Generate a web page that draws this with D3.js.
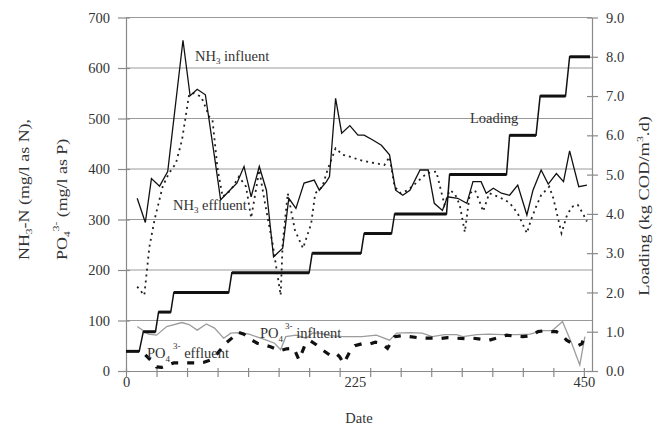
<!DOCTYPE html>
<html>
<head>
<meta charset="utf-8">
<script src="https://cdn.jsdelivr.net/npm/d3@7"></script>
<style>
  body { margin: 0; background: #fff; }
  svg { display: block; }
  text { font-family: "Liberation Serif", "Times New Roman", serif; fill: #333; }
</style>
</head>
<body>
<svg id="chart" width="655" height="432"></svg>
<script>
// ---- NH3-N influent (mg/l as N) ----
const nh3InfDay = [11,19,25,33,41,56,63,70,78,87,93,103,109,116,123,131,138,145,154,160,167,175,185,190,197,200,206,212,220,228,234,243,251,259,265,272,279,289,297,303,311,316,326,335,341,349,354,361,369,377,385,394,400,408,415,423,430,436,445,453];
const nh3Inf    = [342,294,381,366,395,655,545,558,547,424,339,360,372,405,345,405,358,226,243,342,322,372,378,358,375,385,540,471,486,467,467,457,447,428,358,348,358,398,398,332,318,345,342,332,375,375,352,362,352,348,368,309,358,398,370,391,375,436,365,368];

// ---- NH3-N effluent (mg/l as N) ----
const nh3EffDay = [11,18,23,28,36,42,49,55,62,67,74,82,85,90,95,103,111,118,123,131,136,139,144,152,154,159,166,174,182,186,193,198,206,213,221,229,238,246,254,259,264,270,277,285,292,296,305,313,318,323,328,333,338,343,348,351,357,366,372,377,385,394,398,403,408,416,420,428,433,438,444,449,453];
const nh3Eff    = [167,150,246,299,365,391,411,457,547,550,543,503,497,400,345,358,385,365,303,398,339,306,253,150,253,352,279,243,292,352,365,398,441,428,424,418,414,411,408,424,365,352,358,372,385,392,395,329,358,352,329,275,352,358,333,316,352,345,339,333,312,273,299,325,348,365,342,273,306,325,329,312,296];

// ---- PO4 3- influent (mg/l as P) ----
const po4InfDay = [11,22,30,40,55,62,70,79,87,96,103,111,121,128,138,146,152,157,167,177,183,190,200,213,232,246,259,266,279,291,301,313,325,331,345,357,370,384,397,410,419,429,438,446,451];
const po4Inf    = [88,73,71,88,96,92,81,93,85,65,75,76,73,68,61,55,42,68,71,65,75,75,70,68,68,71,61,75,76,75,68,72,72,68,72,73,72,72,73,80,80,98,55,12,68];

// ---- PO4 3- effluent (mg/l as P) ----
const po4EffDay = [19,26,30,35,47,52,64,69,76,83,90,98,104,110,116,123,129,135,142,151,158,165,170,176,181,187,193,200,206,210,214,220,225,232,239,245,251,257,264,272,279,287,295,302,308,316,325,333,341,349,357,366,374,382,390,398,405,412,418,423,428,433,438,444,448,451];
const po4Eff    = [32,18,8,7,16,16,16,16,17,22,35,55,65,77,73,62,55,52,48,40,44,45,22,52,60,52,42,32,36,28,15,38,50,54,53,57,55,45,68,70,68,66,65,65,64,66,65,64,65,63,61,66,71,69,68,70,78,80,78,78,72,61,55,50,54,70];

// ---- Organic loading (kg COD/m3.d), start and end day of each step ----
const loadDay = [0,13,17,29,32,44,47,101,104,180,183,231,234,261,264,315,318,374,377,403,407,432,436,456];
const loadVal = [0.5,0.5,1,1,1.5,1.5,2,2,2.5,2.5,3,3,3.5,3.5,4,4,5,5,6,6,7,7,8,8];

// ---- Axis ticks ----
const leftTicks  = [0,100,200,300,400,500,600,700];
const rightTicks = [0,1,2,3,4,5,6,7,8,9];
const dateTicks  = [0,30,60,90,120,150,180,210,240,270,300,330,360,390,420,450];
const dateLabels = [0,225,450];

const svg = d3.select("#chart");
svg.append("rect").attr("width", 655).attr("height", 432).attr("fill", "#fff");

const x  = d3.scaleLinear().domain([0, 458]).range([126, 592]);
const yL = d3.scaleLinear().domain([0, 700]).range([371, 17.5]);
const yR = d3.scaleLinear().domain([0, 9]).range([371, 17.5]);

const axisColor = "#8a8a8a";

// horizontal gridlines
svg.append("g").selectAll("line").data(leftTicks.filter(d => d > 0)).join("line")
  .attr("x1", x(0)).attr("x2", x.range()[1])
  .attr("y1", d => yL(d)).attr("y2", d => yL(d))
  .attr("stroke", "#9a9a9a").attr("stroke-width", 1);

function styleAxis(g) {
  g.select(".domain").attr("stroke", axisColor).attr("stroke-width", 1.2);
  g.selectAll(".tick line").attr("stroke", axisColor).attr("stroke-width", 1.2);
  g.selectAll("text").attr("fill", "#333").style("font-size", "14.5px")
    .style("font-family", "'Liberation Serif','Times New Roman',serif");
}

// left axis
const gL = svg.append("g").attr("transform", "translate(126,0)")
  .call(d3.axisLeft(yL).tickValues(leftTicks).tickSize(8).tickSizeOuter(0).tickPadding(8));
gL.selectAll(".tick line").attr("x1", 4);
styleAxis(gL);

// right axis
const gR = svg.append("g").attr("transform", "translate(592,0)")
  .call(d3.axisRight(yR).tickValues(rightTicks).tickFormat(d3.format(".1f")).tickSize(6).tickSizeOuter(0).tickPadding(8));
gR.selectAll(".tick line").attr("x1", -5);
styleAxis(gR);

// bottom axis: tick marks every 30 days
const gB = svg.append("g").attr("transform", "translate(0,371)")
  .call(d3.axisBottom(x).tickValues(dateTicks).tickFormat("").tickSize(6).tickSizeOuter(0));
gB.selectAll(".tick line").attr("y1", -3);
styleAxis(gB);
// bottom axis labels
const gBL = svg.append("g").attr("transform", "translate(0,371)")
  .call(d3.axisBottom(x).tickValues(dateLabels).tickSize(0).tickPadding(6));
gBL.select(".domain").remove();
styleAxis(gBL);

// ---- series ----
const zip = (a, b) => a.map((d, i) => [d, b[i]]);
const lineL = d3.line().x(d => x(d[0])).y(d => yL(d[1]));
const lineR = d3.line().x(d => x(d[0])).y(d => yR(d[1]));

// PO4 influent (grey)
svg.append("path").datum(zip(po4InfDay, po4Inf)).attr("d", lineL)
  .attr("fill", "none").attr("stroke", "#9c9c9c").attr("stroke-width", 1.3);

// PO4 effluent (heavy dashed)
svg.append("path").datum(zip(po4EffDay, po4Eff)).attr("d", lineL)
  .attr("fill", "none").attr("stroke", "#111").attr("stroke-width", 3.2)
  .attr("stroke-dasharray", "7,9");

// NH3 effluent (dotted)
svg.append("path").datum(zip(nh3EffDay, nh3Eff)).attr("d", lineL)
  .attr("fill", "none").attr("stroke", "#222").attr("stroke-width", 1.8)
  .attr("stroke-dasharray", "2,4");

// NH3 influent (solid)
svg.append("path").datum(zip(nh3InfDay, nh3Inf)).attr("d", lineL)
  .attr("fill", "none").attr("stroke", "#111").attr("stroke-width", 1.3);

// Loading: thin connecting line plus heavy step plateaus
const loadPts = zip(loadDay, loadVal);
svg.append("path").datum(loadPts).attr("d", lineR)
  .attr("fill", "none").attr("stroke", "#111").attr("stroke-width", 1.5);
const plateaus = [];
for (let i = 0; i + 1 < loadPts.length; i += 2) plateaus.push([loadPts[i], loadPts[i + 1]]);
svg.append("g").selectAll("line").data(plateaus).join("line")
  .attr("x1", d => x(d[0][0])).attr("x2", d => x(d[1][0]))
  .attr("y1", d => yR(d[0][1])).attr("y2", d => yR(d[1][1]))
  .attr("stroke", "#111").attr("stroke-width", 3);

// ---- in-plot labels ----
function chemLabel(px, py, parts) {
  const t = svg.append("text").attr("x", px).attr("y", py).style("font-size", "14.5px");
  parts.forEach(p => {
    const s = t.append("tspan").text(p.t);
    if (p.size) s.style("font-size", p.size + "px");
    if (p.dy) s.attr("dy", p.dy);
    if (p.dx) s.attr("dx", p.dx);
  });
  return t;
}
chemLabel(195, 61, [{t: "NH"}, {t: "3", size: 9, dy: 3}, {t: " influent", dy: -3}]);
chemLabel(173, 210, [{t: "NH"}, {t: "3", size: 9, dy: 3}, {t: " effluent", dy: -3}]);
chemLabel(470, 123, [{t: "Loading"}]);
chemLabel(260, 338, [{t: "PO"}, {t: "4", size: 9, dy: 4}, {t: "3-", size: 9, dy: -13, dx: 2}, {t: " influent", dy: 9}]);
chemLabel(147, 358, [{t: "PO"}, {t: "4", size: 9, dy: 4}, {t: "3-", size: 9, dy: -13, dx: 3}, {t: " effluent", dy: 9}]);

// ---- axis titles ----
svg.append("text").attr("x", 359).attr("y", 423).attr("text-anchor", "middle")
  .style("font-size", "14.5px").text("Date");

function vTitle(tx, ty, anchor, sx, parts) {
  const t = svg.append("text")
    .attr("transform", `translate(${tx},${ty}) rotate(-90) scale(${sx},1)`)
    .attr("text-anchor", anchor).style("font-size", "14px");
  parts.forEach(p => {
    const s = t.append("tspan").text(p.t);
    if (p.size) s.style("font-size", p.size + "px");
    if (p.dy) s.attr("dy", p.dy);
    if (p.dx) s.attr("dx", p.dx);
  });
}
vTitle(29, 260, "start", 1.28, [{t: "NH"}, {t: "3", size: 9, dy: 3}, {t: "-N (mg/l as N),", dy: -3}]);
vTitle(67, 260, "start", 1.28, [{t: "PO"}, {t: "4", size: 9, dy: 3}, {t: "3-", size: 9, dy: -11}, {t: " (mg/l as P)", dy: 8}]);
vTitle(649, 206, "middle", 1.32, [{t: "Loading (kg COD/m"}, {t: "3", size: 9, dy: -6}, {t: ".d)", dy: 6}]);
</script>
</body>
</html>
